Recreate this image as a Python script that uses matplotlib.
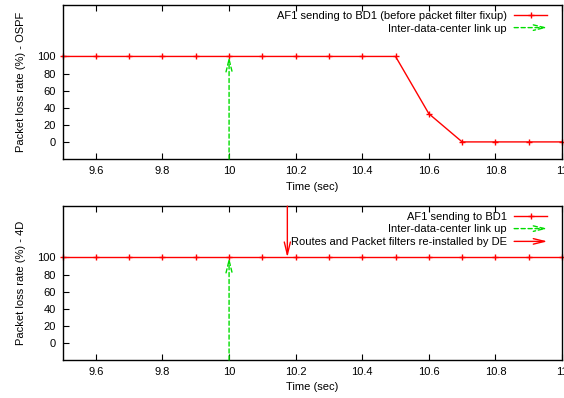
import matplotlib
matplotlib.use("Agg")
import matplotlib.pyplot as plt
from matplotlib.patches import FancyArrowPatch
from matplotlib.legend_handler import HandlerPatch

plt.rcParams['font.family'] = ['Liberation Sans', 'DejaVu Sans']
plt.rcParams['font.size'] = 8

time = [9.5, 9.6, 9.7, 9.8, 9.9, 10.0, 10.1, 10.2, 10.3, 10.4, 10.5, 10.6, 10.7, 10.8, 10.9, 11.0]
loss_ospf = [100, 100, 100, 100, 100, 100, 100, 100, 100, 100, 100, 33, 0, 0, 0, 0]
loss_4d = [100, 100, 100, 100, 100, 100, 100, 100, 100, 100, 100, 100, 100, 100, 100, 100]
link_up_time = 10.0
reinstall_time = 10.175
xticks = [9.6, 9.8, 10.0, 10.2, 10.4, 10.6, 10.8, 11.0]
xticklabels = ['9.6', '9.8', '10', '10.2', '10.4', '10.6', '10.8', '11']
yticks = [0, 20, 40, 60, 80, 100]

RED = '#ff0000'
GREEN = '#00dd00'
ARROW = '->,head_length=0.9,head_width=0.22'


class HandlerArrow(HandlerPatch):
    def create_artists(self, legend, orig_handle, xdescent, ydescent, width, height, fontsize, trans):
        y = height / 2 - ydescent
        p = FancyArrowPatch((-xdescent, y), (-xdescent + width, y),
                            arrowstyle=ARROW,
                            color=orig_handle.get_edgecolor(),
                            linestyle=orig_handle.get_linestyle(),
                            lw=1, mutation_scale=9, transform=trans,
                            shrinkA=0, shrinkB=0)
        return [p]


def arrow_handle(color, ls):
    return FancyArrowPatch((0, 0), (1, 1), color=color, linestyle=ls)


fig = plt.figure(figsize=(5.64, 3.98), dpi=100)
ax1 = fig.add_axes([0.111, 0.6005, 0.8855, 0.3865])
ax2 = fig.add_axes([0.111, 0.0955, 0.8855, 0.3865])


def style(ax, ylabel):
    ax.set_xlim(9.5, 11.0)
    ax.set_ylim(-20, 160)
    ax.set_xticks(xticks)
    ax.set_xticklabels(xticklabels)
    ax.set_yticks(yticks)
    ax.tick_params(direction='in', top=True, right=False, length=4, width=0.8, labelsize=8, pad=5)
    ax.set_xlabel('Time (sec)', fontsize=8, labelpad=4)
    ax.set_ylabel(ylabel, fontsize=8, labelpad=8)
    for s in ax.spines.values():
        s.set_linewidth(1)


def link_arrow(ax):
    ax.annotate('', xy=(link_up_time, 100), xytext=(link_up_time, -20),
                arrowprops=dict(arrowstyle=ARROW, color=GREEN,
                                lw=1, linestyle=(0, (3, 2)), shrinkA=0, shrinkB=0,
                                mutation_scale=10))


def add_legend(ax, handles, labels):
    ax.legend(handles, labels,
              handler_map={FancyArrowPatch: HandlerArrow()},
              loc='upper right', bbox_to_anchor=(0.982, 1.0),
              frameon=False, markerfirst=False, fontsize=8,
              handlelength=3.0, handletextpad=0.65, labelspacing=0.25,
              borderaxespad=0.2, borderpad=0.3)


# Top: OSPF
l1, = ax1.plot(time, loss_ospf, color=RED, lw=1, marker='+', markersize=5, mew=1, clip_on=False)
link_arrow(ax1)
style(ax1, 'Packet loss rate (%) - OSPF')
add_legend(ax1, [l1, arrow_handle(GREEN, (0, (3, 2)))],
           ['AF1 sending to BD1 (before packet filter fixup)', 'Inter-data-center link up'])

# Bottom: 4D
l2, = ax2.plot(time, loss_4d, color=RED, lw=1, marker='+', markersize=5, mew=1, clip_on=False)
link_arrow(ax2)
ax2.annotate('', xy=(reinstall_time, 100), xytext=(reinstall_time, 160),
             arrowprops=dict(arrowstyle=ARROW, color=RED,
                             lw=1, shrinkA=0, shrinkB=0, mutation_scale=10))
style(ax2, 'Packet loss rate (%) - 4D')
add_legend(ax2, [l2, arrow_handle(GREEN, (0, (3, 2))), arrow_handle(RED, '-')],
           ['AF1 sending to BD1', 'Inter-data-center link up',
            'Routes and Packet filters re-installed by DE'])

fig.savefig('out.png', dpi=100)
